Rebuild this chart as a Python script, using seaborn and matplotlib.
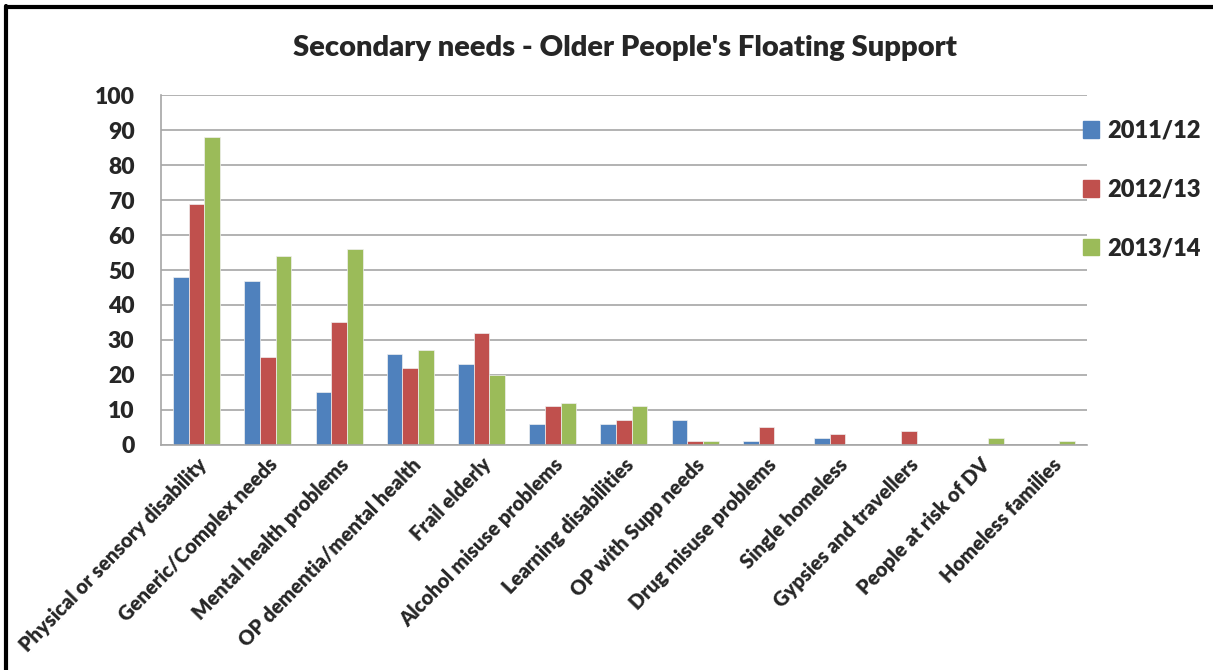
import matplotlib
matplotlib.use("Agg")
import matplotlib.pyplot as plt
import seaborn as sns
import pandas as pd
from matplotlib.lines import Line2D

categories = ["Physical or sensory disability", "Generic/Complex needs", "Mental health problems",
              "OP dementia/mental health", "Frail elderly", "Alcohol misuse problems",
              "Learning disabilities", "OP with Supp needs", "Drug misuse problems",
              "Single homeless", "Gypsies and travellers", "People at risk of DV",
              "Homeless families"]
series_names = ["2011/12", "2012/13", "2013/14"]
v2011 = [48, 47, 15, 26, 23, 6, 6, 7, 1, 2, 0, 0, 0]
v2012 = [69, 25, 35, 22, 32, 11, 7, 1, 5, 3, 4, 0, 0]
v2013 = [88, 54, 56, 27, 20, 12, 11, 1, 0, 0, 0, 2, 1]
yticks = [0, 10, 20, 30, 40, 50, 60, 70, 80, 90, 100]
title = "Secondary needs - Older People's Floating Support"

rows = []
for s, vals in zip(series_names, [v2011, v2012, v2013]):
    for c, v in zip(categories, vals):
        rows.append({"category": c, "year": s, "value": v})
df = pd.DataFrame(rows)

sns.set_theme(style="white")
plt.rcParams['font.family'] = ['Lato', 'DejaVu Sans']
W = "heavy"
plt.rcParams['font.weight'] = W

fig = plt.figure(figsize=(12.13, 6.70), dpi=100)
ax = fig.add_axes([0.1327, 0.336, 0.896 - 0.1327, 0.858 - 0.336])

palette = ["#4F81BD", "#C0504D", "#9BBB59"]
sns.barplot(data=df, x="category", y="value", hue="year", order=categories,
            hue_order=series_names, palette=palette, width=0.66, ax=ax,
            edgecolor="#f0f0f0", linewidth=0.5, saturation=1)

ax.set_ylim(0, 100)
ax.set_yticks(yticks)
ax.set_xlim(-0.5, len(categories) - 0.5)
ax.yaxis.grid(True, color="#a6a6a6", linewidth=1.2)
ax.set_axisbelow(True)
for side in ["top", "right"]:
    ax.spines[side].set_visible(False)
for side in ["left", "bottom"]:
    ax.spines[side].set_color("#a6a6a6")
    ax.spines[side].set_linewidth(1.2)
ax.set_xlabel("")
ax.set_ylabel("")
ax.tick_params(axis="both", length=0)
ax.tick_params(axis="y", labelsize=16.5, pad=19)
for lab in ax.get_yticklabels():
    lab.set_fontweight(W)
ax.set_xticks(range(len(categories)))
ax.set_xticklabels(categories, rotation=46, ha="right", rotation_mode="anchor",
                   fontsize=14.5, fontweight=W)
ax.tick_params(axis="x", pad=7)

ax.legend_.remove()
handles = [plt.Rectangle((0, 0), 1, 1, color=c) for c in palette]
leg = fig.legend(handles, series_names, loc="upper left", bbox_to_anchor=(0.885, 0.835),
                 frameon=False, fontsize=17, handlelength=0.7, handleheight=0.7,
                 labelspacing=1.55, handletextpad=0.35, borderaxespad=0)
for t in leg.get_texts():
    t.set_fontweight(W)

fig.text(0.515, 0.928, title, ha="center", va="center", fontsize=21, fontweight=W)

# outer border (left and top visible)
fig.add_artist(Line2D([6 / 1213, 6 / 1213], [0, 1 - 6 / 670], transform=fig.transFigure,
                      color="black", linewidth=3))
fig.add_artist(Line2D([6 / 1213, 1], [1 - 7 / 670, 1 - 7 / 670], transform=fig.transFigure,
                      color="black", linewidth=3))

fig.savefig("out.png", dpi=100, facecolor="white")
